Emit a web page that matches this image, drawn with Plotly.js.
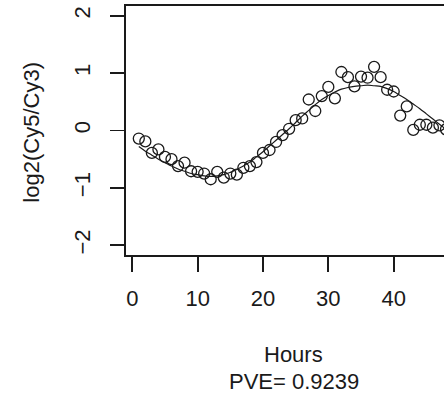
<!DOCTYPE html>
<html>
<head>
<meta charset="utf-8">
<script src="https://cdn.plot.ly/plotly-3.0.1.min.js"></script>
<style>
html, body { margin: 0; padding: 0; overflow: hidden; background: #fff; }
#chart { width: 480px; height: 396px; }
</style>
</head>
<body>
<div id="chart"></div>
<script>
// Observed log ratios by hour
const hours = [1,2,3,4,5,6,7,8,9,10,11,12,13,14,15,16,17,18,19,20,21,22,23,24,25,26,27,28,29,30,31,32,33,34,35,36,37,38,39,40,41,42,43,44,45,46,47,48];
const logRatio = [-0.14,-0.19,-0.39,-0.33,-0.46,-0.50,-0.62,-0.56,-0.71,-0.72,-0.75,-0.85,-0.72,-0.82,-0.75,-0.77,-0.65,-0.62,-0.55,-0.39,-0.34,-0.20,-0.08,0.03,0.18,0.21,0.54,0.34,0.60,0.76,0.56,1.02,0.93,0.77,0.94,0.92,1.11,0.93,0.71,0.68,0.26,0.42,0.01,0.10,0.10,0.05,0.09,0.02];
// Fitted curve
const fitValues = [-0.28,-0.36,-0.43,-0.50,-0.56,-0.62,-0.67,-0.71,-0.75,-0.77,-0.79,-0.80,-0.79,-0.77,-0.73,-0.68,-0.62,-0.55,-0.46,-0.37,-0.27,-0.17,-0.07,0.03,0.14,0.25,0.35,0.45,0.54,0.61,0.67,0.72,0.75,0.77,0.78,0.79,0.78,0.77,0.73,0.68,0.61,0.54,0.46,0.38,0.29,0.20,0.11,0.02];
const xTicks = [0,10,20,30,40];
const yTicks = [-2,-1,0,1,2];
const xLabel = "Hours";
const pveLabel = "PVE= 0.9239";
const yLabel = "log2(Cy5/Cy3)";

const font = "Liberation Sans, Arial, sans-serif";
const ink = "#1a1a1a";

const traces = [
  {
    x: hours, y: logRatio, type: "scatter", mode: "markers",
    marker: { symbol: "circle-open", size: 11, color: ink, line: { width: 1.3, color: ink } },
    hoverinfo: "skip"
  },
  {
    x: hours, y: fitValues, type: "scatter", mode: "lines",
    line: { color: ink, width: 1.2, shape: "spline", smoothing: 1 },
    hoverinfo: "skip"
  }
];

const layout = {
  width: 480, height: 396,
  margin: { l: 126, r: 19, t: 6, b: 141.3 },
  paper_bgcolor: "#fff", plot_bgcolor: "#fff",
  showlegend: false,
  font: { family: font, size: 22, color: ink },
  xaxis: {
    range: [-0.96, 50.3], tickvals: xTicks, ticktext: xTicks.map(String),
    ticks: "outside", ticklen: 15, tickwidth: 1.8, tickcolor: ink,
    showline: true, linewidth: 1.8, linecolor: ink, mirror: true,
    showgrid: false, zeroline: false,
    tickfont: { family: font, size: 22, color: ink },
    ticklabelstandoff: 8
  },
  yaxis: {
    range: [-2.17, 2.17], tickvals: yTicks, ticktext: yTicks.map(v => v < 0 ? "\u2212" + Math.abs(v) : String(v)),
    ticks: "outside", ticklen: 14, tickwidth: 1.8, tickcolor: ink,
    showline: true, linewidth: 1.8, linecolor: ink, mirror: true,
    showgrid: false, zeroline: false, tickangle: -90,
    tickfont: { family: font, size: 22, color: ink },
    ticklabelstandoff: 11
  },
  annotations: [
    { text: xLabel, xref: "paper", yref: "paper", x: 0.5, y: (254.7 - 354) / 248.7,
      xanchor: "center", yanchor: "middle", showarrow: false, font: { family: font, size: 22, color: ink } },
    { text: pveLabel, xref: "paper", yref: "paper", x: 0.5, y: (254.7 - 381) / 248.7,
      xanchor: "center", yanchor: "middle", showarrow: false, font: { family: font, size: 22, color: ink } },
    { text: yLabel, xref: "paper", yref: "paper", x: (32 - 126) / 335, y: (254.7 - 132.5) / 248.7,
      xanchor: "center", yanchor: "middle", textangle: -90, showarrow: false, font: { family: font, size: 22, color: ink } }
  ]
};

Plotly.newPlot("chart", traces, layout, { staticPlot: true, displayModeBar: false });
</script>
</body>
</html>
